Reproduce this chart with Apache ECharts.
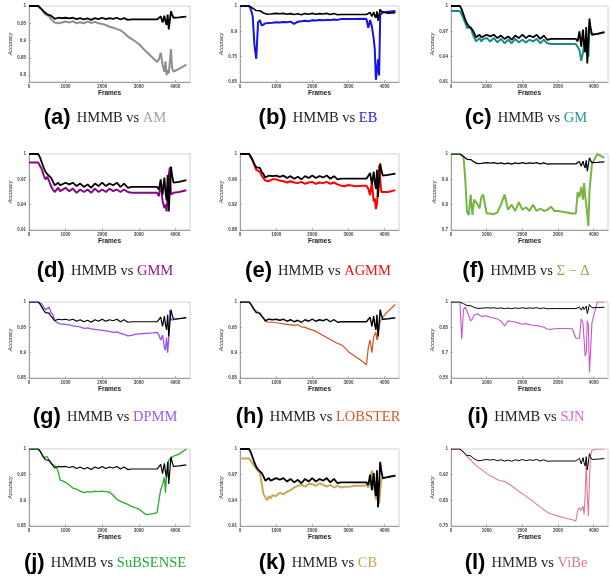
<!DOCTYPE html>
<html>
<head>
<meta charset="utf-8">
<script src="https://cdn.jsdelivr.net/npm/echarts@6/dist/echarts.min.js"></script>
<style>
    html, body { margin: 0; padding: 0; background: #fff; }
    #chart { width: 610px; height: 578px; }
</style>
</head>
<body>
<div id="chart"></div>
<script>
// frame numbers shared by every curve
var frames = [0, 250, 300, 350, 400, 450, 500, 550, 600, 650, 700, 750, 800, 850, 900,
    1000, 1100, 1200, 1300, 1400, 1500, 1600, 1700, 1800, 1900, 2000, 2100, 2200, 2300, 2400, 2500, 2600, 2700, 2800, 2900, 3000,
    3200, 3400, 3500, 3550, 3600, 3650, 3700, 3730, 3760, 3790, 3820, 3850, 3880, 3910, 3950, 4100, 4300];

// HMMB (black curve, same in every panel)
var hmmbAcc = [1, 1, 0.996, 0.99, 0.984, 0.979, 0.976, 0.978, 0.972, 0.968, 0.963, 0.962, 0.966, 0.963, 0.965,
    0.966, 0.964, 0.966, 0.962, 0.965, 0.961, 0.964, 0.96, 0.965, 0.962, 0.966, 0.962, 0.965, 0.963, 0.966, 0.961, 0.965, 0.96, 0.961, 0.961, 0.961,
    0.961, 0.961, 0.961, 0.958, 0.97, 0.952, 0.972, 0.955, 0.945, 0.975, 0.932, 0.93, 0.985, 0.975, 0.966, 0.967, 0.969];

var amAcc = [1, 1, 0.995, 0.99, 0.982, 0.976, 0.972, 0.97, 0.962, 0.958, 0.952, 0.955, 0.95, 0.955, 0.952,
    0.955, 0.952, 0.956, 0.95, 0.953, 0.95, 0.955, 0.951, 0.954, 0.95, 0.948, 0.945, 0.94, 0.937, 0.933, 0.93, 0.922, 0.912, 0.905, 0.898, 0.89,
    0.868, 0.848, 0.838, 0.845, 0.865, 0.83, 0.81, 0.84, 0.8, 0.815, 0.805, 0.84, 0.875, 0.82, 0.81, 0.818, 0.83];

var ebAcc = [1, 1, 0.985, 0.955, 0.82, 0.757, 0.925, 0.935, 0.91, 0.912, 0.92, 0.918, 0.922, 0.92, 0.923,
    0.925, 0.924, 0.926, 0.925, 0.928, 0.918, 0.928, 0.93, 0.932, 0.93, 0.934, 0.933, 0.935, 0.934, 0.936, 0.935, 0.938, 0.936, 0.94, 0.94, 0.94,
    0.94, 0.941, 0.94, 0.9, 0.935, 0.905, 0.85, 0.8, 0.66, 0.7, 0.754, 0.68, 0.96, 0.968, 0.97, 0.973, 0.977];

var gmAcc = [0.994, 0.994, 0.99, 0.985, 0.98, 0.974, 0.972, 0.975, 0.968, 0.963, 0.958, 0.957, 0.962, 0.958, 0.961,
    0.962, 0.958, 0.962, 0.957, 0.961, 0.956, 0.96, 0.956, 0.961, 0.957, 0.96, 0.957, 0.96, 0.958, 0.961, 0.956, 0.96, 0.956, 0.955, 0.955, 0.955,
    0.955, 0.955, 0.955, 0.953, 0.948, 0.935, 0.945, 0.955, 0.96, 0.95, 0.945, 0.94, 0.975, 0.972, 0.966, 0.967, 0.969];

var gmmAcc = [0.99, 0.99, 0.988, 0.982, 0.975, 0.97, 0.973, 0.968, 0.962, 0.958, 0.955, 0.957, 0.96, 0.956, 0.958,
    0.96, 0.956, 0.959, 0.954, 0.958, 0.955, 0.958, 0.954, 0.959, 0.955, 0.958, 0.955, 0.959, 0.956, 0.958, 0.955, 0.958, 0.955, 0.954, 0.954, 0.954,
    0.954, 0.954, 0.954, 0.95, 0.966, 0.945, 0.936, 0.94, 0.932, 0.95, 0.975, 0.984, 0.952, 0.953, 0.954, 0.955, 0.957];

var agmmAcc = [1, 1, 0.995, 0.99, 0.982, 0.975, 0.978, 0.972, 0.966, 0.962, 0.958, 0.96, 0.957, 0.959, 0.96,
    0.96, 0.958, 0.957, 0.955, 0.957, 0.955, 0.954, 0.956, 0.953, 0.955, 0.956, 0.953, 0.955, 0.954, 0.956, 0.953, 0.955, 0.952, 0.95, 0.949, 0.951,
    0.949, 0.95, 0.95, 0.945, 0.935, 0.955, 0.925, 0.93, 0.913, 0.92, 0.95, 0.982, 0.96, 0.94, 0.938, 0.94, 0.943];

var sdAcc = [1, 1, 0.995, 0.99, 0.9, 0.77, 0.76, 0.84, 0.76, 0.82, 0.825, 0.8, 0.785, 0.83, 0.84,
    0.765, 0.765, 0.762, 0.77, 0.8, 0.84, 0.78, 0.8, 0.775, 0.81, 0.78, 0.79, 0.775, 0.8, 0.775, 0.785, 0.775, 0.78, 0.792, 0.775, 0.775,
    0.77, 0.765, 0.765, 0.85, 0.83, 0.87, 0.82, 0.885, 0.84, 0.8, 0.76, 0.715, 0.85, 0.9, 0.96, 1, 0.985];

var dpmmAcc = [1, 1, 0.998, 0.996, 0.99, 0.985, 0.988, 0.99, 0.98, 0.975, 0.965, 0.96, 0.958, 0.957, 0.957,
    0.956, 0.955, 0.953, 0.952, 0.951, 0.948, 0.949, 0.947, 0.946, 0.945, 0.944, 0.943, 0.942, 0.94, 0.941, 0.938, 0.936, 0.933, 0.934, 0.936, 0.937,
    0.938, 0.939, 0.94, 0.935, 0.925, 0.935, 0.91, 0.905, 0.93, 0.9, 0.93, 0.984, 0.965, 0.965, 0.965, 0.967, 0.969];

var lobsterAcc = [1, 1, 0.998, 0.99, 0.985, 0.982, 0.98, 0.976, 0.972, 0.968, 0.962, 0.965, 0.96, 0.962, 0.96,
    0.959, 0.958, 0.957, 0.956, 0.955, 0.954, 0.955, 0.951, 0.95, 0.947, 0.945, 0.942, 0.938, 0.934, 0.93, 0.926, 0.922, 0.918, 0.916, 0.91, 0.902,
    0.892, 0.882, 0.876, 0.91, 0.925, 0.9, 0.932, 0.935, 0.94, 0.925, 0.93, 0.95, 0.962, 0.965, 0.97, 0.982, 0.995];

var sjnAcc = [1, 1, 0.78, 0.957, 0.97, 0.976, 0.917, 0.888, 0.9, 0.925, 0.935, 0.93, 0.92, 0.915, 0.92,
    0.918, 0.91, 0.905, 0.9, 0.888, 0.858, 0.888, 0.885, 0.882, 0.875, 0.868, 0.872, 0.866, 0.862, 0.86, 0.856, 0.85, 0.84, 0.838, 0.842, 0.843,
    0.843, 0.842, 0.785, 0.782, 0.785, 0.9, 0.875, 0.885, 0.68, 0.7, 0.89, 0.86, 0.583, 0.7, 0.878, 1, 1];

var subsenseAcc = [1, 1, 0.996, 0.99, 0.983, 0.98, 0.985, 0.978, 0.975, 0.97, 0.968, 0.965, 0.955, 0.94, 0.938,
    0.935, 0.93, 0.924, 0.922, 0.918, 0.915, 0.917, 0.916, 0.918, 0.917, 0.918, 0.917, 0.916, 0.91, 0.902, 0.898, 0.895, 0.892, 0.888, 0.886, 0.883,
    0.872, 0.874, 0.876, 0.9, 0.921, 0.93, 0.945, 0.915, 0.955, 0.96, 0.978, 0.98, 0.982, 0.984, 0.986, 0.99, 1];

var cbAcc = [0.989, 0.989, 0.987, 0.983, 0.98, 0.977, 0.978, 0.972, 0.96, 0.947, 0.945, 0.94, 0.945, 0.942, 0.946,
    0.945, 0.949, 0.947, 0.95, 0.952, 0.955, 0.957, 0.958, 0.956, 0.959, 0.959, 0.957, 0.96, 0.958, 0.956, 0.958, 0.955, 0.957, 0.955, 0.956, 0.956,
    0.957, 0.957, 0.958, 0.955, 0.962, 0.975, 0.96, 0.95, 0.941, 0.945, 0.94, 0.936, 0.95, 0.965, 0.967, 0.968, 0.969];

var vibeAcc = [1, 1, 0.995, 0.99, 0.982, 0.976, 0.97, 0.965, 0.958, 0.952, 0.947, 0.942, 0.938, 0.933, 0.93,
    0.92, 0.913, 0.908, 0.9, 0.897, 0.895, 0.888, 0.88, 0.872, 0.862, 0.855, 0.847, 0.838, 0.83, 0.82, 0.812, 0.803, 0.795, 0.79, 0.786, 0.782,
    0.776, 0.77, 0.766, 0.8, 0.81, 0.8, 0.815, 0.787, 0.85, 0.955, 0.85, 0.782, 0.9, 0.976, 0.996, 1, 1];

// axis ticks
var xTicks = [0, 1000, 2000, 3000, 4000];
var ticksA = [0.8, 0.85, 0.9, 0.95, 1], labelsA = ['0.8', '0.85', '0.9', '0.95', '1'];
var ticksB = [0.65, 0.7667, 0.8833, 1], labelsB = ['0.65', '0.75', '0.9', '1'];
var ticksC = [0.91, 0.94, 0.97, 1], labelsC = ['0.91', '0.94', '0.97', '1'];
var ticksE = [0.88, 0.92, 0.96, 1], labelsE = ['0.88', '0.92', '0.96', '1'];
var ticksF = [0.7, 0.8, 0.9, 1], labelsF = ['0.7', '0.8', '0.9', '1'];
var ticksG = [0.85, 0.9, 0.95, 1], labelsG = ['0.85', '0.9', '0.95', '1'];
var ticksI = [0.55, 0.7, 0.85, 1], labelsI = ['0.55', '0.7', '0.85', '1'];
var ticksL = [0.75, 0.8333, 0.9167, 1], labelsL = ['0.75', '0.83', '0.92', '1'];

var panels = [
    {tag: '(a)', name: 'AM', color: '#8e8e8e', cap: '#a3a3a3', acc: amAcc, yMin: 0.78, ticks: ticksA, labels: labelsA, lw: 2, hw: 1.8},
    {tag: '(b)', name: 'EB', color: '#1414e6', cap: '#2323dd', acc: ebAcc, yMin: 0.65, ticks: ticksB, labels: labelsB, lw: 2, hw: 1.6},
    {tag: '(c)', name: 'GM', color: '#1e8a8a', cap: '#2a9696', acc: gmAcc, yMin: 0.91, ticks: ticksC, labels: labelsC, lw: 2, hw: 1.8},
    {tag: '(d)', name: 'GMM', color: '#850a85', cap: '#8e1a8e', acc: gmmAcc, yMin: 0.91, ticks: ticksC, labels: labelsC, lw: 2, hw: 1.8},
    {tag: '(e)', name: 'AGMM', color: '#ff0000', cap: '#ee1111', acc: agmmAcc, yMin: 0.88, ticks: ticksE, labels: labelsE, lw: 2, hw: 1.8},
    {tag: '(f)', name: '\u03a3 \u2212 \u0394', color: '#78b445', cap: '#7cb342', acc: sdAcc, yMin: 0.7, ticks: ticksF, labels: labelsF, lw: 2, hw: 1.2},
    {tag: '(g)', name: 'DPMM', color: '#9a4ef0', cap: '#9a5cf5', acc: dpmmAcc, yMin: 0.85, ticks: ticksG, labels: labelsG, lw: 1.3, hw: 1.2},
    {tag: '(h)', name: 'LOBSTER', color: '#d25222', cap: '#d4562a', acc: lobsterAcc, yMin: 0.85, ticks: ticksG, labels: labelsG, lw: 1.2, hw: 1.4},
    {tag: '(i)', name: 'SJN', color: '#cc55cc', cap: '#d066d0', acc: sjnAcc, yMin: 0.55, ticks: ticksI, labels: labelsI, lw: 1.1, hw: 1},
    {tag: '(j)', name: 'SuBSENSE', color: '#26ab2a', cap: '#22aa33', acc: subsenseAcc, yMin: 0.85, ticks: ticksG, labels: labelsG, lw: 1.3, hw: 1.2},
    {tag: '(k)', name: 'CB', color: '#c9a85e', cap: '#c9a45a', acc: cbAcc, yMin: 0.91, ticks: ticksC, labels: labelsC, lw: 2, hw: 1.8},
    {tag: '(l)', name: 'ViBe', color: '#e07a95', cap: '#e07890', acc: vibeAcc, yMin: 0.75, ticks: ticksL, labels: labelsL, lw: 1.1, hw: 1}
];

var rowTop = [6, 154, 302, 449];
var rowH = [76, 76, 76, 77];
var colLeft = [29, 240, 451];
var colW = [161, 159, 157];
var capY = [118, 271, 417, 563];
var capX = [105, 318, 526];

var toPoints = function (acc) {
    return frames.map(function (f, i) { return [f, acc[i]]; });
};

var grids = [], xAxes = [], yAxes = [], series = [], graphics = [];

panels.forEach(function (p, i) {
    var r = Math.floor(i / 3), c = i % 3;
    grids.push({
        left: colLeft[c], top: rowTop[r], width: colW[c], height: rowH[r],
        show: true, borderColor: '#d2d2d2', borderWidth: 1, outerBoundsMode: 'none'
    });
    xAxes.push({
        type: 'value', gridIndex: i, min: 0, max: 4400,
        name: 'Frames', nameLocation: 'middle', nameGap: 7,
        nameTextStyle: {fontSize: 6.5, fontWeight: 'bold', color: '#222', fontFamily: 'Liberation Sans'},
        axisLine: {lineStyle: {color: '#8a8a8a', width: 0.8}},
        axisTick: {inside: true, length: 2, customValues: xTicks, lineStyle: {color: '#8a8a8a', width: 0.6}},
        axisLabel: {
            customValues: xTicks, fontSize: 4.5, margin: 2, color: '#444', fontWeight: 'bold', fontFamily: 'Liberation Sans',
            formatter: function (v) { return String(v); }
        },
        splitLine: {show: false}
    });
    yAxes.push({
        type: 'value', gridIndex: i, min: p.yMin, max: 1,
        name: 'Accuracy', nameLocation: 'middle', nameRotate: 90, nameGap: 14,
        nameTextStyle: {fontSize: 5.5, color: '#222', fontStyle: 'italic', fontFamily: 'Liberation Sans'},
        axisLine: {show: true, lineStyle: {color: '#8a8a8a', width: 0.8}},
        axisTick: {show: true, inside: true, length: 2, customValues: p.ticks, lineStyle: {color: '#8a8a8a', width: 0.6}},
        axisLabel: {
            customValues: p.ticks, fontSize: 4.5, margin: 3, color: '#444', fontWeight: 'bold', fontFamily: 'Liberation Sans',
            formatter: function (v) {
                for (var k = 0; k < p.ticks.length; k++) {
                    if (Math.abs(p.ticks[k] - v) < 1e-6) return p.labels[k];
                }
                return '';
            }
        },
        splitLine: {show: false}
    });
    series.push({
        type: 'line', xAxisIndex: i, yAxisIndex: i, data: toPoints(p.acc),
        showSymbol: false, lineStyle: {color: p.color, width: p.lw}, z: 2
    });
    series.push({
        type: 'line', xAxisIndex: i, yAxisIndex: i, data: toPoints(hmmbAcc),
        showSymbol: false, lineStyle: {color: '#000', width: p.hw}, z: 3
    });
    graphics.push({
        type: 'text', x: capX[c], y: capY[r],
        style: {
            text: '{p|' + p.tag + ' }{t|HMMB vs }{m|' + p.name + '}',
            align: 'center', verticalAlign: 'middle',
            rich: {
                p: {fontFamily: 'Liberation Sans', fontWeight: 'bold', fontSize: 22, fill: '#000', color: '#000'},
                t: {fontFamily: 'Liberation Serif', fontSize: 14.5, fill: '#222', color: '#222'},
                m: {fontFamily: 'Liberation Serif', fontSize: 14.5, fill: p.cap, color: p.cap}
            }
        }
    });
});

var chart = echarts.init(document.getElementById('chart'));
chart.setOption({
    animation: false,
    backgroundColor: '#fff',
    grid: grids,
    xAxis: xAxes,
    yAxis: yAxes,
    series: series,
    graphic: graphics
});
</script>
</body>
</html>
